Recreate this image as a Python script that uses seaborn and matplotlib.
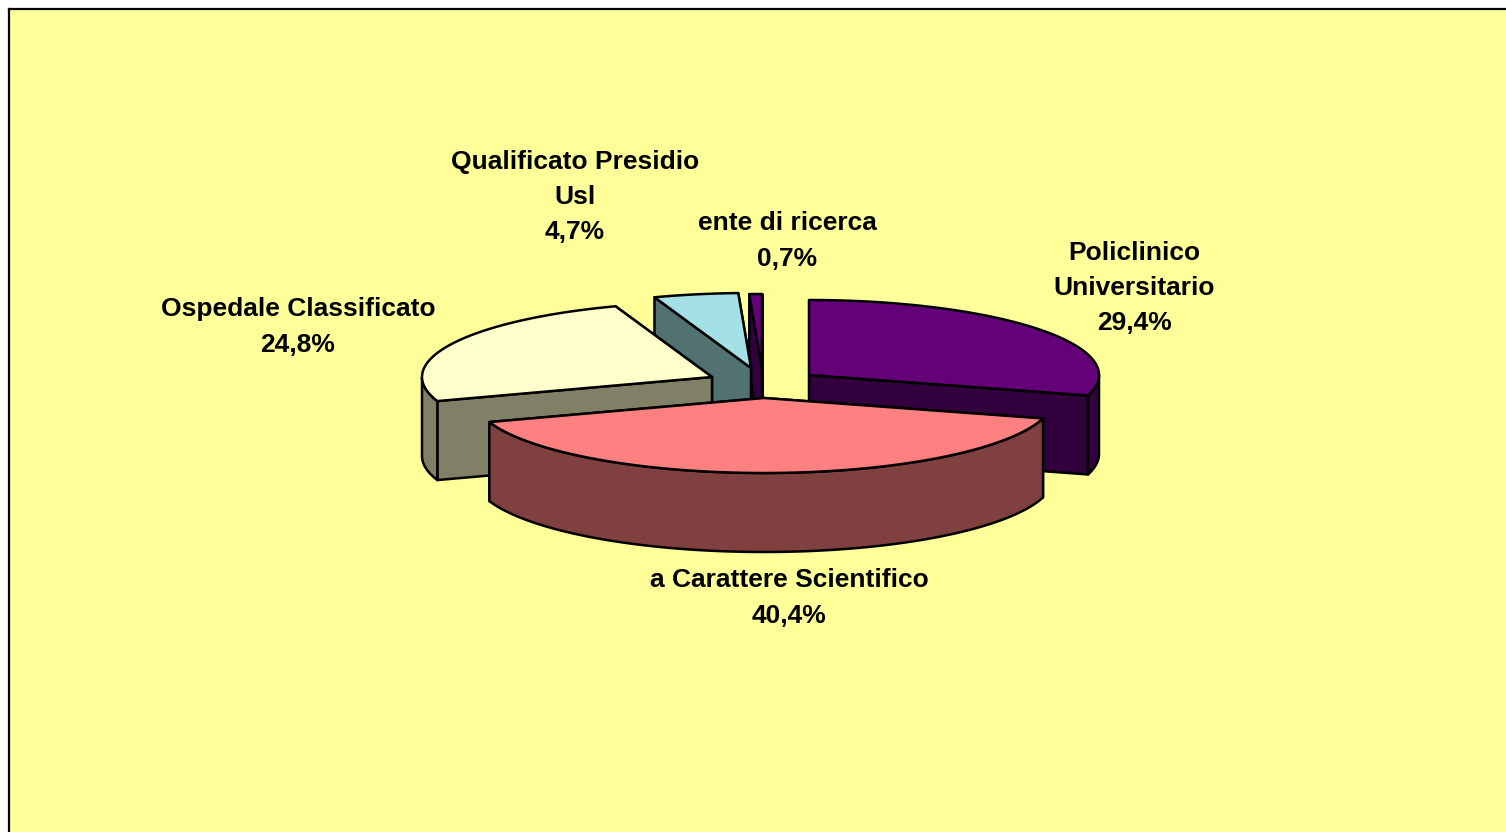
import numpy as np
import matplotlib
matplotlib.use("Agg")
import matplotlib.pyplot as plt
import matplotlib.colors as mcolors
import seaborn as sns

# dati della torta
categorie = ["Policlinico\nUniversitario", "a Carattere Scientifico", "Ospedale Classificato",
             "Qualificato Presidio\nUsl", "ente di ricerca"]
valori = [29.4, 40.4, 24.8, 4.7, 0.7]
colori = ["#640078", "#FF8080", "#FFFFCC", "#A3E1E6", "#640078"]

# geometria in pixel
RX, RY, DEPTH = 290, 75, 79
centri = [(809, 375), (764, 398), (712, 377), (751, 368), (762, 369)]
pos_etichette = [(1134, 288), (789, 598), (298, 327), (575, 197), (787, 241)]
ordine = [4, 3, 0, 2, 1]  # dal fondo verso il davanti

sns.set_style("white")
plt.rcParams["font.family"] = ["Liberation Sans", "DejaVu Sans"]

fig = plt.figure(figsize=(15.06, 8.32), dpi=100, facecolor="white")
ax = fig.add_axes([9 / 1506, 0, 1 - 9 / 1506, 1 - 9 / 832])
ax.set_xlim(9, 1506)
ax.set_ylim(832, 9)
ax.set_facecolor("#FFFF99")
ax.set_xticks([])
ax.set_yticks([])
sns.despine(ax=ax, top=False, left=False, right=True, bottom=True)
for lato in ["left", "top"]:
    ax.spines[lato].set_linewidth(1.6)
    ax.spines[lato].set_color("black")

# angoli cumulati, senso orario partendo dalle ore 12
quote = np.array(valori) / sum(valori) * 360
fine = 90 - np.cumsum(quote)
inizio = fine + quote


def punto(c, ang, dy=0):
    a = np.radians(ang)
    return c[0] + RX * np.cos(a), c[1] - RY * np.sin(a) + dy


def faccia(pts, colore, z):
    ax.fill([p[0] for p in pts], [p[1] for p in pts], facecolor=colore, edgecolor="black",
            linewidth=1.8, joinstyle="round", zorder=z)


z = 1
for i in ordine:
    c = centri[i]
    top = np.array(mcolors.to_rgb(colori[i]))
    lato = tuple(top * 0.5)

    # facce di taglio, prima quella piu lontana
    tagli = sorted([inizio[i], fine[i]], key=lambda a: punto(c, a)[1] + c[1])
    for ang in tagli:
        p = punto(c, ang)
        faccia([c, p, (p[0], p[1] + DEPTH), (c[0], c[1] + DEPTH)], lato, z)
        z += 1

    # bordo esterno visibile (solo la meta davanti)
    angoli = np.linspace(inizio[i], fine[i], 200)
    davanti = angoli[np.sin(np.radians(angoli)) <= 0]
    if len(davanti) > 1:
        sopra = [punto(c, a) for a in davanti]
        sotto = [punto(c, a, DEPTH) for a in davanti[::-1]]
        faccia(sopra + sotto, lato, z)
        z += 1

    # faccia superiore
    faccia([c] + [punto(c, a) for a in angoli], colori[i], z)
    z += 1

for nome, val, pos in zip(categorie, valori, pos_etichette):
    testo = nome + "\n" + f"{val:.1f}".replace(".", ",") + "%"
    ax.text(pos[0], pos[1], testo, ha="center", va="center", fontsize=19, fontweight="bold",
            color="black", linespacing=1.6, zorder=50)

fig.savefig("out.png", dpi=100)
